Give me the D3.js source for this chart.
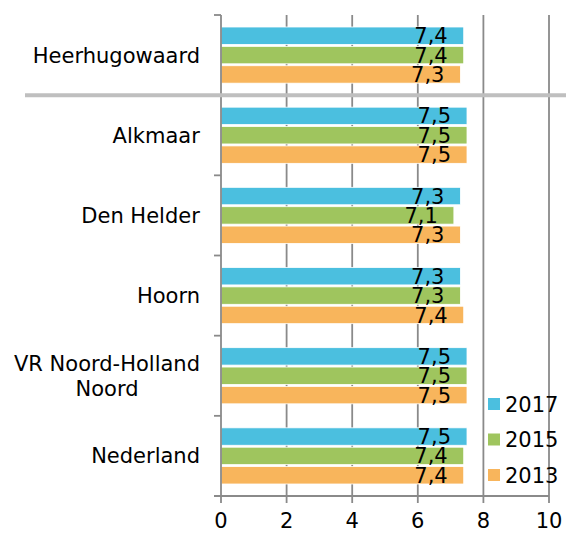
<!DOCTYPE html>
<html><head><meta charset="utf-8">
<script src="https://cdn.jsdelivr.net/npm/d3@7"></script>
<style>body{margin:0;background:#fff}svg{display:block}text{font-family:"DejaVu Sans",Verdana,sans-serif;fill:#000}</style>
</head><body><svg id="c" width="566" height="533"></svg>
<script>
const categories = ["Heerhugowaard","Alkmaar","Den Helder","Hoorn","VR Noord-Holland\nNoord","Nederland"];
const series = ["2017","2015","2013"];
const v2017 = [7.4,7.5,7.3,7.3,7.5,7.5];
const v2015 = [7.4,7.5,7.1,7.3,7.5,7.4];
const v2013 = [7.3,7.5,7.3,7.4,7.5,7.4];
const xTicks = [0,2,4,6,8,10];
const colors = ["#4BBFDF","#9FC55E","#F8B55C"];
const values = [v2017,v2015,v2013];

(function(){
const svg = d3.select("#c");
const pL = 221, pR = 549, pT = 15, pB = 496;
const fs = 21;
const x = d3.scaleLinear().domain([0,10]).range([pL,pR]);
const y = d3.scaleBand().domain(categories).range([pT,pB]);
const inner = d3.scaleBand().domain(series).range([12, y.bandwidth()-12]).paddingInner(0.1);

// gridlines
svg.append("g").selectAll("line").data(xTicks.slice(1)).join("line")
  .attr("x1",d=>x(d)).attr("x2",d=>x(d)).attr("y1",pT).attr("y2",pB)
  .attr("stroke","#8a8a8a").attr("stroke-width",1.8);

// bars
const rows = categories.map((c,i)=>({c, vals: series.map((s,j)=>({s, v: values[j][i], col: colors[j]}))}));
const g = svg.append("g").selectAll("g").data(rows).join("g")
  .attr("transform",d=>`translate(0,${y(d.c)})`);
g.selectAll("rect").data(d=>d.vals).join("rect")
  .attr("x",x(0)).attr("y",d=>inner(d.s)).attr("width",d=>x(d.v)-x(0)).attr("height",inner.bandwidth())
  .attr("fill",d=>d.col).attr("stroke","#fff").attr("stroke-width",0.8);
g.selectAll("text").data(d=>d.vals).join("text")
  .attr("x",d=>x(d.v)-16).attr("y",d=>inner(d.s)+inner.bandwidth()/2).attr("dy","0.36em")
  .attr("text-anchor","end").attr("font-size",fs)
  .text(d=>d3.format(".1f")(d.v).replace(".",","));

// y axis
svg.append("line").attr("x1",pL).attr("x2",pL).attr("y1",pT).attr("y2",pB)
  .attr("stroke","#8a8a8a").attr("stroke-width",1.8);
const yEdges = categories.map(c=>y(c)).concat([pB]);
svg.append("g").selectAll("line").data(yEdges).join("line")
  .attr("x1",pL-7).attr("x2",pL).attr("y1",d=>d).attr("y2",d=>d)
  .attr("stroke","#8a8a8a").attr("stroke-width",1.8);

// x axis
svg.append("line").attr("x1",pL-7).attr("x2",pR).attr("y1",pB).attr("y2",pB)
  .attr("stroke","#8a8a8a").attr("stroke-width",1.8);
svg.append("g").selectAll("line").data(xTicks).join("line")
  .attr("x1",d=>x(d)).attr("x2",d=>x(d)).attr("y1",pB).attr("y2",pB+7)
  .attr("stroke","#8a8a8a").attr("stroke-width",1.8);
svg.append("g").selectAll("text").data(xTicks).join("text")
  .attr("x",d=>x(d)).attr("y",520).attr("dy","0.36em").attr("text-anchor","middle")
  .attr("font-size",fs).text(d=>d);

// category labels
categories.forEach(c=>{
  const lines = c.split("\n");
  const cy = y(c)+y.bandwidth()/2;
  const lh = 25;
  const t = svg.append("text").attr("font-size",fs).attr("text-anchor","middle");
  lines.forEach((ln,i)=>{
    t.append("tspan").attr("x",0).attr("y",cy+(i-(lines.length-1)/2)*lh).attr("dy","0.36em").text(ln);
  });
  const w = t.node().getBBox().width;
  t.selectAll("tspan").attr("x",200-w/2);
});

// separator
svg.append("line").attr("x1",25).attr("x2",566).attr("y1",y(categories[1])).attr("y2",y(categories[1]))
  .attr("stroke","#BFBFBF").attr("stroke-width",4);

// legend
const lg = svg.append("g").selectAll("g").data(series).join("g")
  .attr("transform",(d,i)=>`translate(488,${404+i*35.5})`);
lg.append("rect").attr("x",0).attr("y",-6).attr("width",12).attr("height",12).attr("fill",(d,i)=>colors[i]);
lg.append("text").attr("x",17).attr("y",0).attr("dy","0.36em").attr("font-size",fs).text(d=>d);
})();
</script></body></html>
